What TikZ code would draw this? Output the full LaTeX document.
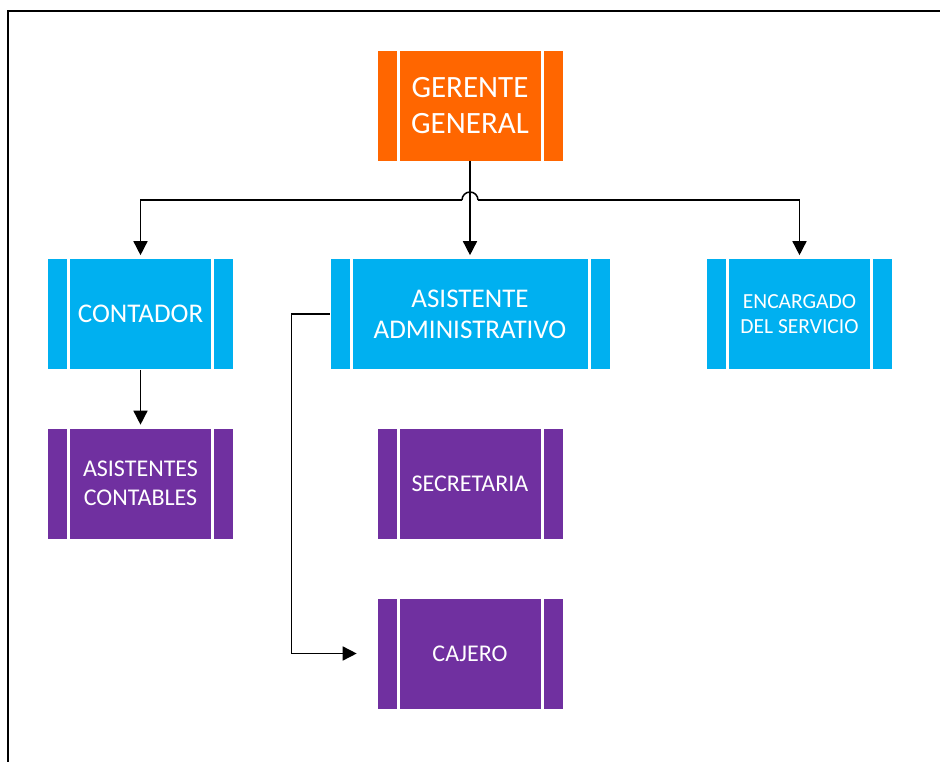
\documentclass[tikz,border=0pt]{standalone}
\usepackage{fontspec}
\setmainfont{Carlito}
\usetikzlibrary{arrows.meta}
\definecolor{orgorange}{HTML}{FF6600}
\definecolor{orgblue}{HTML}{00B0F0}
\definecolor{orgpurple}{HTML}{7030A0}
\tikzset{
  orgbox/.style={draw=white, line width=0.6pt, inner sep=0pt, minimum width=186pt, minimum height=111pt,
    text=white, align=center,
    path picture={
      \draw[white, line width=3pt] ([xshift=21pt]path picture bounding box.north west) -- ([xshift=21pt]path picture bounding box.south west);
      \draw[white, line width=3pt] ([xshift=-21pt]path picture bounding box.north east) -- ([xshift=-21pt]path picture bounding box.south east);
    }},
  bigtext/.style={font=\fontsize{31}{36}\selectfont},
  midtext/.style={font=\fontsize{27}{31}\selectfont},
  enctext/.style={font=\fontsize{21.5}{25}\selectfont},
  smalltext/.style={font=\fontsize{24}{29}\selectfont},
  conn/.style={draw=black, line width=1.5pt},
  arr/.style={conn, -{Triangle[length=14pt,width=14pt]}, shorten >=3pt},
  frame/.style={draw=black, line width=2.2pt}
}
\begin{document}
\begin{tikzpicture}[x=1pt,y=1pt]
\useasboundingbox (0,0) rectangle (940,-762);
\draw[frame] (8,-763) -- (8,-11) -- (941,-11);

\node[orgbox, fill=orgorange, bigtext] (g) at (470,-105.5) {GERENTE\\GENERAL};
\node[orgbox, fill=orgblue, midtext] (cont) at (140.5,-314) {CONTADOR};
\node[orgbox, fill=orgblue, midtext, minimum width=280pt] (adm) at (470,-314) {ASISTENTE\\ADMINISTRATIVO};
\node[orgbox, fill=orgblue, enctext] (enc) at (799.5,-314) {ENCARGADO\\DEL SERVICIO};
\node[orgbox, fill=orgpurple, smalltext] (acont) at (140.5,-483.5) {ASISTENTES\\CONTABLES};
\node[orgbox, fill=orgpurple, smalltext] (sec) at (470,-483.5) {SECRETARIA};
\node[orgbox, fill=orgpurple, smalltext] (caj) at (470,-653.5) {CAJERO};

\coordinate (bus) at (470,-200);
\draw[arr] (g) -- (adm);
\draw[arr] ([xshift=-8pt]bus) -| (cont);
\draw[arr] ([xshift=8pt]bus) -| (enc);
\draw[conn] ([xshift=-8pt]bus) arc[start angle=180, end angle=0, radius=8pt];
\draw[arr] (cont) -- (acont);
\draw[arr, shorten >=20pt] (adm.west) -- ++(-38,0) |- (caj.west);
\end{tikzpicture}
\end{document}
